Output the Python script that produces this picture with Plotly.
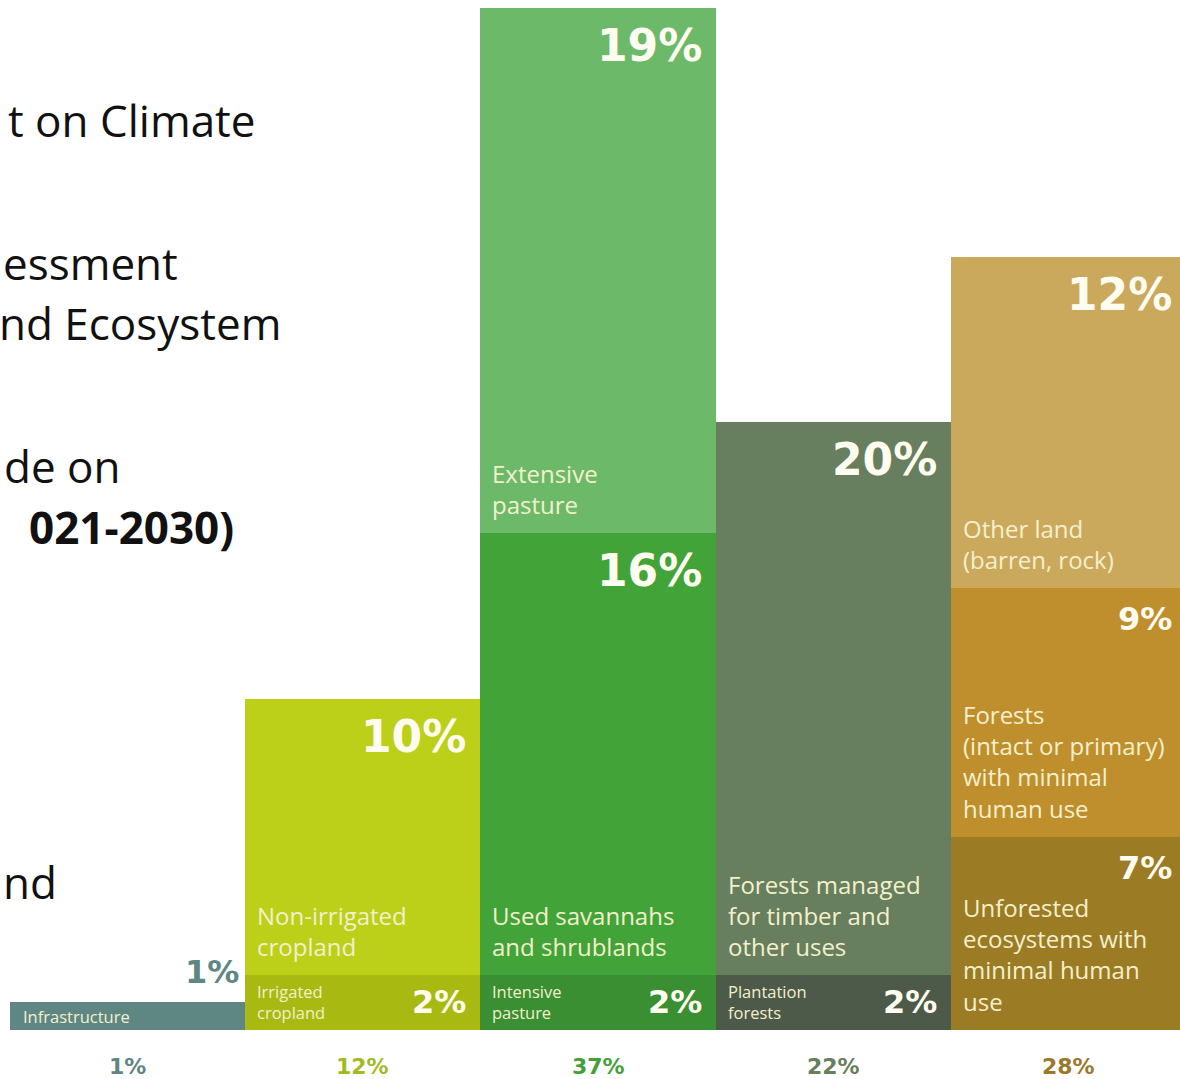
import plotly.graph_objects as go

# ---------------- data ----------------
columns = ["Infrastructure", "Cropland", "Pasture", "Forests", "Other land"]
column_totals = [1, 12, 37, 22, 28]
column_total_labels = ["1%", "12%", "37%", "22%", "28%"]

segment_names = [
    "Infrastructure",
    "Irrigated<br>cropland",
    "Non-irrigated<br>cropland",
    "Intensive<br>pasture",
    "Used savannahs<br>and shrublands",
    "Extensive<br>pasture",
    "Plantation<br>forests",
    "Forests managed<br>for timber and<br>other uses",
    "Unforested<br>ecosystems with<br>minimal human<br>use",
    "Forests<br>(intact or primary)<br>with minimal<br>human use",
    "Other land<br>(barren, rock)",
]
segment_column = [0, 1, 1, 2, 2, 2, 3, 3, 4, 4, 4]
segment_values = [1, 2, 10, 2, 16, 19, 2, 20, 7, 9, 12]

slide_lines = ["t on Climate", "essment", "nd Ecosystem", "de on", "<b>021-2030)</b>", "nd"]

# ---------------- styles ----------------
segment_colors = ["#5E8784", "#A8BA12", "#BCCF19", "#398F31", "#42A339", "#6DB96A",
                  "#4D5A49", "#677F5E", "#9C7B25", "#BF8F2D", "#CAA95D"]
segment_kind = ["infra", "small", "main", "small", "main", "main",
                "small", "main", "main", "main", "main"]
pct_size = [32, 32, 44, 32, 44, 44, 32, 44, 32, 32, 44]
total_colors = ["#5F8682", "#A3BA1F", "#45A03A", "#667F5C", "#9A7A2A"]
slide_y_px = [120, 263, 323, 466, 527, 882]
slide_right_px = [258, 167, 283, 123, 236, 30]
slide_anchor = ["right", "left", "right", "right", "right", "left"]

W, H = 1180, 1079
PLOT_LEFT, PLOT_TOP, PLOT_BOTTOM = 10, 8, 1030   # page pixels
L, T, R = PLOT_LEFT, PLOT_TOP, 0
B = H - PLOT_BOTTOM
plot_w = W - L - R
plot_h = H - T - B
COL_PX = 235.2

LABEL_FONT = "Open Sans"
PCT_FONT = "DejaVu Sans"
SLIDE_FONT = "Open Sans"
label_color = "#F3F0CC"
pct_color = "#FFFDF0"

x_right = 4 + 0.5 - (PLOT_LEFT + 5 * COL_PX - W) / COL_PX

fig = go.Figure()
annotations = []

bases = {}
for i, (col, val) in enumerate(zip(segment_column, segment_values)):
    base = bases.get(col, 0)
    bases[col] = base + val
    fig.add_trace(go.Bar(
        x=[col], y=[val], base=[base], width=[1.0],
        marker=dict(color=segment_colors[i], line=dict(width=0)),
        name=segment_names[i].replace("<br>", " "),
        hoverinfo="name",
        showlegend=False,
    ))
    top = base + val
    kind = segment_kind[i]
    pct_text = f"<b>{val}%</b>"
    col_right = col + 0.5
    rshift = -12
    if col_right > x_right:
        rshift = -12 + (col_right - x_right) * COL_PX
        col_right = x_right
    if kind == "infra":
        annotations.append(dict(x=col - 0.5, y=base + val / 2, xref="x", yref="y",
                                text=segment_names[i], xanchor="left", yanchor="middle",
                                xshift=11, showarrow=False, align="left",
                                font=dict(family=LABEL_FONT, size=16.5, color=label_color)))
        annotations.append(dict(x=col_right, y=top, xref="x", yref="y",
                                text=pct_text, xanchor="right", yanchor="bottom",
                                xshift=-4, yshift=9, showarrow=False,
                                font=dict(family=PCT_FONT, size=pct_size[i], color=segment_colors[i])))
    elif kind == "small":
        annotations.append(dict(x=col - 0.5, y=base + val / 2, xref="x", yref="y",
                                text=segment_names[i], xanchor="left", yanchor="middle",
                                xshift=10, showarrow=False, align="left",
                                font=dict(family=LABEL_FONT, size=16.5, color=label_color)))
        annotations.append(dict(x=col_right, y=base + val / 2, xref="x", yref="y",
                                text=pct_text, xanchor="right", yanchor="middle",
                                xshift=rshift, showarrow=False,
                                font=dict(family=PCT_FONT, size=pct_size[i], color=pct_color)))
    else:
        annotations.append(dict(x=col - 0.5, y=base, xref="x", yref="y",
                                text=segment_names[i], xanchor="left", yanchor="bottom",
                                xshift=10, yshift=10, showarrow=False, align="left",
                                font=dict(family=LABEL_FONT, size=24, color=label_color)))
        annotations.append(dict(x=col_right, y=top, xref="x", yref="y",
                                text=pct_text, xanchor="right", yanchor="top",
                                xshift=rshift, yshift=-10, showarrow=False,
                                font=dict(family=PCT_FONT, size=pct_size[i], color=pct_color)))

# column totals under the axis
for c, lab in enumerate(column_total_labels):
    annotations.append(dict(x=c, y=0, xref="x", yref="y", text=f"<b>{lab}</b>",
                            xanchor="center", yanchor="top", yshift=-22, showarrow=False,
                            font=dict(family=PCT_FONT, size=22, color=total_colors[c])))

# cropped slide text on the left (kept inside the page)
for txt, ypx, xpx, anc in zip(slide_lines, slide_y_px, slide_right_px, slide_anchor):
    xp = xpx if anc == "right" else 1
    annotations.append(dict(x=(xp - PLOT_LEFT) / plot_w,
                            y=(PLOT_BOTTOM - ypx) / plot_h,
                            xref="paper", yref="paper", text=txt,
                            xanchor=anc, yanchor="middle", showarrow=False,
                            font=dict(family=SLIDE_FONT, size=44, color="#111111")))

fig.update_layout(
    width=W, height=H,
    margin=dict(l=L, r=R, t=T, b=B, pad=0),
    paper_bgcolor="white", plot_bgcolor="white",
    barmode="overlay", bargap=0,
    xaxis=dict(range=[-0.5, x_right], visible=False, fixedrange=True),
    yaxis=dict(range=[0, max(column_totals)], visible=False, fixedrange=True),
    annotations=annotations,
    showlegend=False,
)

fig.write_html(
    "out.html",
    config={"displayModeBar": False},
    post_script="document.body.style.margin='0';document.body.style.overflow='hidden';",
)
